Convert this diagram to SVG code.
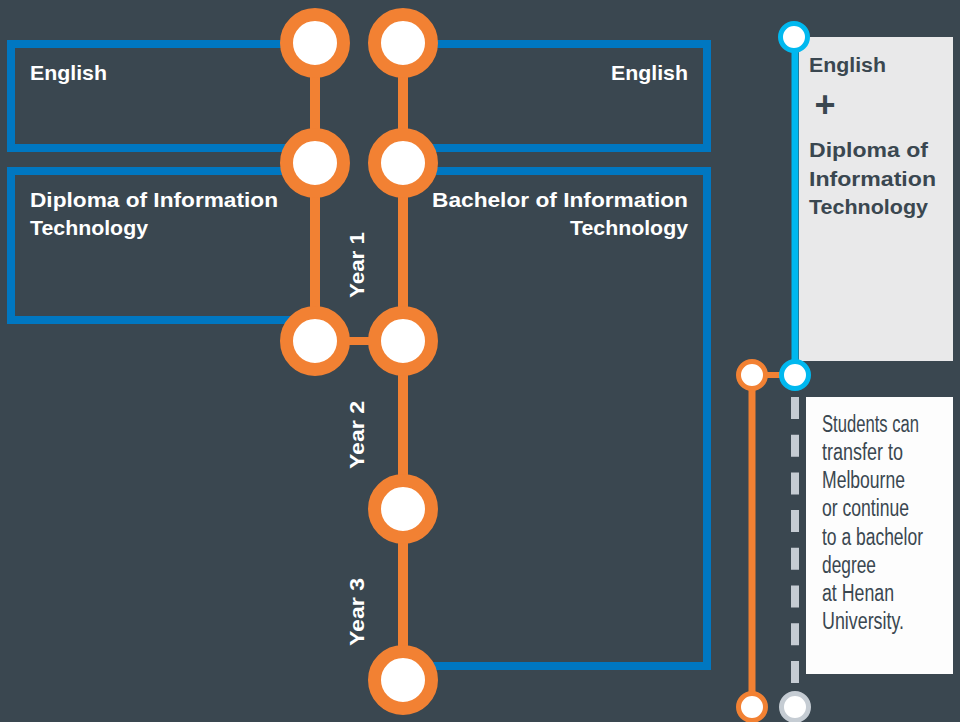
<svg xmlns="http://www.w3.org/2000/svg" width="960" height="722" viewBox="0 0 960 722">
<style>
.bg{fill:#3a4750}
.box{fill:none;stroke:#0077c1;stroke-width:8}
.orl{stroke:#f28133;fill:none}
.big{fill:#fff;stroke:#f28133;stroke-width:13}
.sm{fill:#fff;stroke-width:5}
.t{font-family:"Liberation Sans",Arial,sans-serif;font-weight:bold;fill:#fff}
.d{fill:#3a4750}
.n{font-family:"Liberation Sans",Arial,sans-serif;font-size:23px;fill:#3a4750}
</style>
<rect class="bg" x="0" y="0" width="960" height="722"/>
<g id="connectors">
  <path class="box" d="M315,44H11V148H315"/>
  <path class="box" d="M315,171H11V320H315"/>
  <path class="box" d="M403,44H707V148H403"/>
  <path class="box" d="M403,171H707V666H403"/>
  <line class="orl" x1="315" y1="43" x2="315" y2="341" stroke-width="10"/>
  <line class="orl" x1="403" y1="43" x2="403" y2="680" stroke-width="10"/>
  <line class="orl" x1="315" y1="341" x2="403" y2="341" stroke-width="8"/>
  <line x1="795" y1="37" x2="795" y2="375" stroke="#00b8ef" stroke-width="7"/>
  <line class="orl" x1="752" y1="375" x2="795" y2="375" stroke-width="6"/>
  <line class="orl" x1="752" y1="375" x2="752" y2="707" stroke-width="7"/>
  <line x1="795" y1="397" x2="795" y2="695" stroke="#c5ccd3" stroke-width="8" stroke-dasharray="22 15.7"/>
</g>
<g id="node-english-left">
  <text class="t" x="30" y="80" font-size="21" textLength="77" lengthAdjust="spacingAndGlyphs">English</text>
</g>
<g id="node-diploma-left">
  <text class="t" x="30" y="207" font-size="21" textLength="248" lengthAdjust="spacingAndGlyphs">Diploma of Information</text>
  <text class="t" x="30" y="235" font-size="21" textLength="118" lengthAdjust="spacingAndGlyphs">Technology</text>
</g>
<g id="node-english-right">
  <text class="t" x="611" y="80" font-size="21" textLength="77" lengthAdjust="spacingAndGlyphs">English</text>
</g>
<g id="node-bachelor">
  <text class="t" x="432" y="207" font-size="21" textLength="256" lengthAdjust="spacingAndGlyphs">Bachelor of Information</text>
  <text class="t" x="570" y="235" font-size="21" textLength="118" lengthAdjust="spacingAndGlyphs">Technology</text>
</g>
<g id="year-labels">
  <text class="t" font-size="21" transform="translate(364,298) rotate(-90)" textLength="66" lengthAdjust="spacingAndGlyphs">Year 1</text>
  <text class="t" font-size="21" transform="translate(364,469) rotate(-90)" textLength="68" lengthAdjust="spacingAndGlyphs">Year 2</text>
  <text class="t" font-size="21" transform="translate(364,646) rotate(-90)" textLength="68" lengthAdjust="spacingAndGlyphs">Year 3</text>
</g>
<g id="stops-left">
  <circle class="big" cx="315" cy="43" r="28.5"/>
  <circle class="big" cx="315" cy="163" r="28.5"/>
  <circle class="big" cx="315" cy="341" r="28.5"/>
</g>
<g id="stops-right">
  <circle class="big" cx="403" cy="43" r="28.5"/>
  <circle class="big" cx="403" cy="163" r="28.5"/>
  <circle class="big" cx="403" cy="341" r="28.5"/>
  <circle class="big" cx="403" cy="509" r="28.5"/>
  <circle class="big" cx="403" cy="680" r="28.5"/>
</g>
<g id="node-panel">
  <rect x="799" y="37" width="154" height="324" fill="#e9e9ea"/>
  <text class="t d" x="809" y="72" font-size="20" textLength="77" lengthAdjust="spacingAndGlyphs">English</text>
  <text class="t d" x="825" y="117" font-size="36" text-anchor="middle">+</text>
  <text class="t d" x="809" y="157" font-size="20" textLength="119" lengthAdjust="spacingAndGlyphs">Diploma of</text>
  <text class="t d" x="809" y="186" font-size="20" textLength="127" lengthAdjust="spacingAndGlyphs">Information</text>
  <text class="t d" x="809" y="214" font-size="20" textLength="119" lengthAdjust="spacingAndGlyphs">Technology</text>
</g>
<g id="node-note">
  <rect x="806" y="397" width="147" height="277" fill="#fdfdfd"/>
  <text class="n" x="822" y="432" textLength="97" lengthAdjust="spacingAndGlyphs">Students can</text>
  <text class="n" x="822" y="460" textLength="81" lengthAdjust="spacingAndGlyphs">transfer to</text>
  <text class="n" x="822" y="488" textLength="83" lengthAdjust="spacingAndGlyphs">Melbourne</text>
  <text class="n" x="822" y="516" textLength="87" lengthAdjust="spacingAndGlyphs">or continue</text>
  <text class="n" x="822" y="545" textLength="101" lengthAdjust="spacingAndGlyphs">to a bachelor</text>
  <text class="n" x="822" y="573" textLength="54" lengthAdjust="spacingAndGlyphs">degree</text>
  <text class="n" x="822" y="601" textLength="72" lengthAdjust="spacingAndGlyphs">at Henan</text>
  <text class="n" x="822" y="629" textLength="82" lengthAdjust="spacingAndGlyphs">University.</text>
</g>
<g id="stops-small">
  <circle class="sm" cx="794" cy="37" r="13.5" stroke="#00b8ef"/>
  <circle class="sm" cx="795" cy="375" r="13.5" stroke="#00b8ef"/>
  <circle class="sm" cx="752" cy="375" r="13.5" stroke="#f28133"/>
  <circle class="sm" cx="752" cy="707" r="13.5" stroke="#f28133"/>
  <circle class="sm" cx="795" cy="707" r="13.5" stroke="#c5ccd3"/>
</g>
</svg>
